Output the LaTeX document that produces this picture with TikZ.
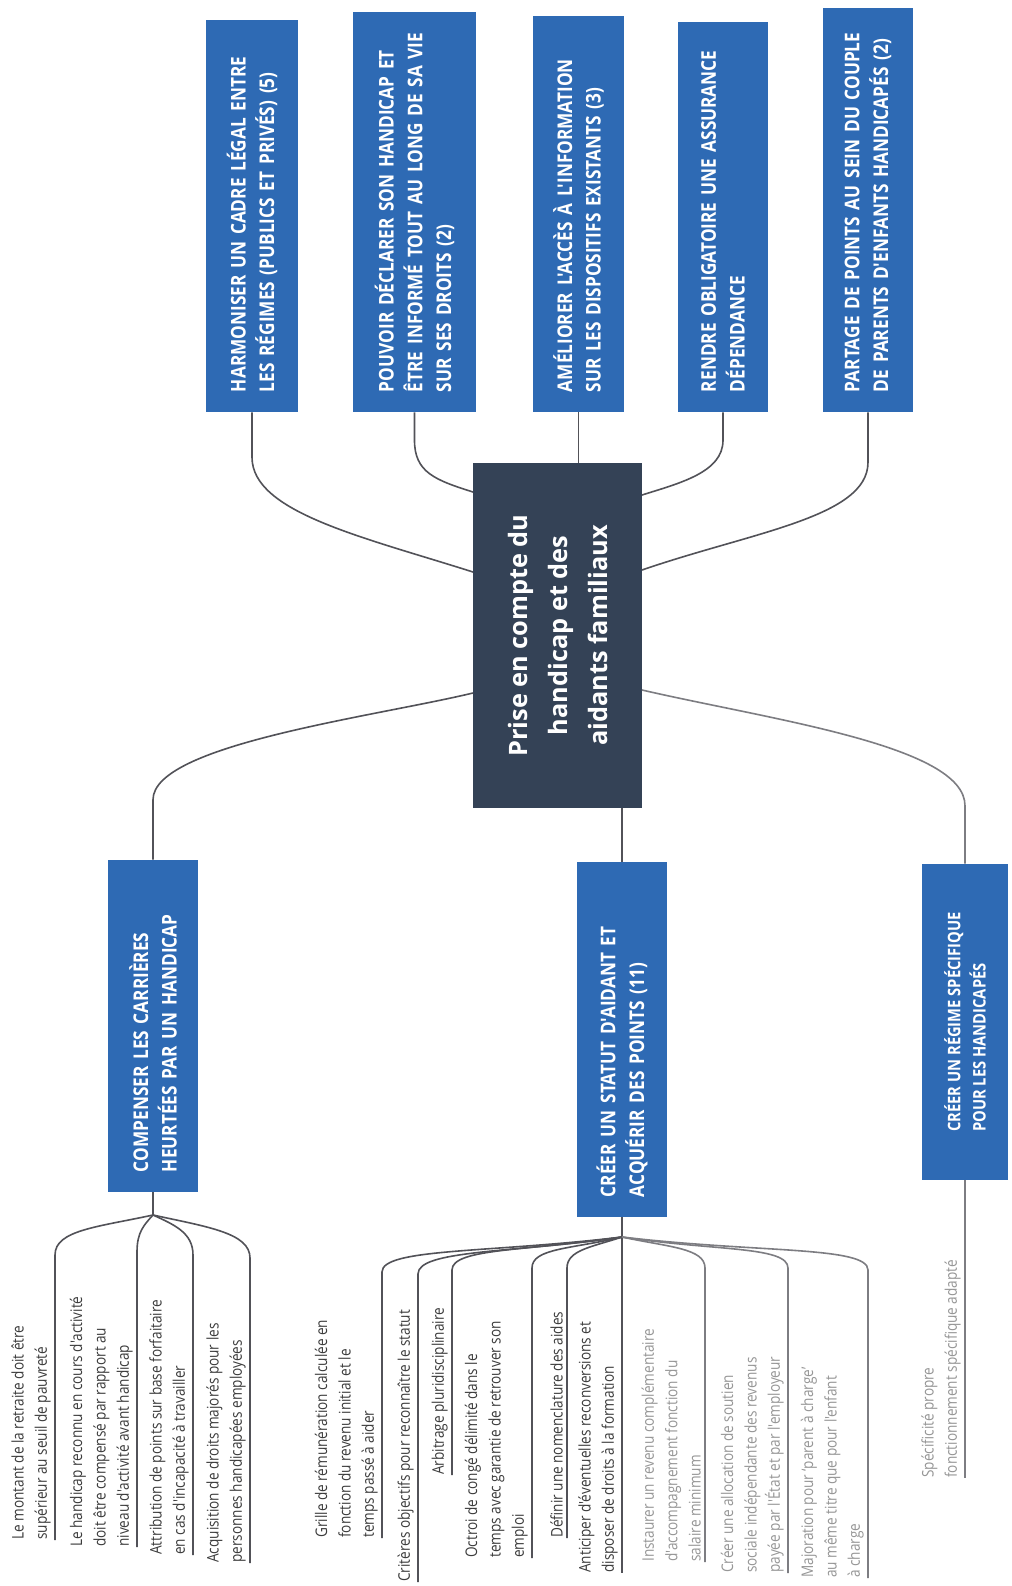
\documentclass[tikz,border=0pt]{standalone}
\usepackage{fontspec}
\setmainfont{Open Sans}
\newfontfamily\boxfont[FakeStretch=0.85]{Open Sans}
\newfontfamily\leaffont[FakeStretch=0.85]{Open Sans}
\usetikzlibrary{calc}
\definecolor{topicblue}{RGB}{46,106,180}
\definecolor{rootnavy}{RGB}{52,66,86}
\definecolor{linegray}{RGB}{82,82,88}
\definecolor{leafgray}{RGB}{60,60,60}
\definecolor{fadegray}{RGB}{150,150,150}
\definecolor{fadeline}{RGB}{125,125,130}
\begin{document}
\begin{tikzpicture}[x=0.75pt,y=-0.75pt,
  conn/.style={draw=linegray,line width=1.2pt},
  fadeconn/.style={draw=fadeline,line width=1.2pt},
  topic/.style={rotate=90,fill=topicblue,text=white,inner ysep=0pt,inner xsep=15pt,align=left,
    font=\boxfont\bfseries\fontsize{15.2}{21.5}\selectfont},
  root/.style={rotate=90,fill=rootnavy,text=white,inner sep=0pt,align=center,
    font=\bfseries\fontsize{19}{30}\selectfont},
  leaf/.style={rotate=90,anchor=south west,inner xsep=0pt,inner ysep=3pt,align=left,
    text=leafgray,font=\leaffont\fontsize{12}{17.5}\selectfont},
  fadeleaf/.style={leaf,text=fadegray},
]
\useasboundingbox (0,0) rectangle (1011,1586);
\fill[white] (0,0) rectangle (1011,1586);

% root
\node[root,minimum width=258.75pt,minimum height=126.75pt] (C) at (557.5,635.5)
  {Prise en compte du\\handicap et des\\aidants familiaux};

% top topics
\node[topic,minimum width=294pt,minimum height=69pt,text width=264pt] (T1) at (252,216)
  {\mbox{HARMONISER UN CADRE LÉGAL ENTRE}\\\mbox{LES RÉGIMES (PUBLICS ET PRIVÉS) (5)}};
\node[topic,minimum width=300pt,minimum height=92.25pt,text width=270pt] (T2) at (414.5,212)
  {\mbox{POUVOIR DÉCLARER SON HANDICAP ET}\\\mbox{ÊTRE INFORMÉ TOUT AU LONG DE SA VIE}\\\mbox{SUR SES DROITS (2)}};
\node[topic,minimum width=297pt,minimum height=68.25pt,text width=267pt] (T3) at (578.5,214)
  {\mbox{AMÉLIORER L'ACCÈS À L'INFORMATION}\\\mbox{SUR LES DISPOSITIFS EXISTANTS (3)}};
\node[topic,minimum width=292.5pt,minimum height=67.5pt,text width=262.5pt] (T4) at (723,217)
  {\mbox{RENDRE OBLIGATOIRE UNE ASSURANCE}\\\mbox{DÉPENDANCE}};
\node[topic,minimum width=303pt,minimum height=67.5pt,text width=273pt] (T5) at (868,210)
  {\mbox{PARTAGE DE POINTS AU SEIN DU COUPLE}\\\mbox{DE PARENTS D'ENFANTS HANDICAPÉS (2)}};

% bottom topics
\node[topic,minimum width=249pt,minimum height=67.5pt,text width=219pt] (B1) at (153,1026)
  {\mbox{COMPENSER LES CARRIÈRES}\\\mbox{HEURTÉES PAR UN HANDICAP}};
\node[topic,minimum width=266.25pt,minimum height=67.5pt,text width=236.25pt] (B2) at (622,1039.5)
  {\mbox{CRÉER UN STATUT D'AIDANT ET}\\\mbox{ACQUÉRIR DES POINTS (11)}};
\node[topic,minimum width=237pt,minimum height=64.5pt,inner xsep=0pt,
  font=\boxfont\bfseries\fontsize{13}{19}\selectfont] (B3) at (965,1022)
  {CRÉER UN RÉGIME SPÉCIFIQUE\\POUR LES HANDICAPÉS};

% root -> top topics
\draw[conn] (T1.west) -- ++(0,45) .. controls +(0,55) and +(-110,-35) .. ($(C.center)+(-84.5,-63.5)$);
\draw[conn] (T2.west) -- ++(0,28) .. controls +(0,32) and +(-38,-12) .. ($(C.center)+(-84.5,-143.5)$);
\draw[conn] (T3.west) -- ($(C.center)+(21,-172.5)$);
\draw[conn] (T4.west) -- ++(0,28) .. controls +(0,32) and +(38,-12) .. ($(C.center)+(84.5,-140.5)$);
\draw[conn] (T5.west) -- ++(0,50) .. controls +(0,55) and +(110,-38) .. ($(C.center)+(84.5,-65.5)$);

% root -> bottom topics
\draw[conn] (B1.east) -- ++(0,-60) .. controls +(0,-55) and +(-100,24) .. ($(C.center)+(-84.5,57.5)$);
\draw[conn] ($(C.center)+(64.5,172.5)$) -- (B2.east);
\draw[fadeconn] (B3.east) -- ++(0,-58) .. controls +(0,-60) and +(130,30) .. ($(C.center)+(84.5,54.5)$);

% leaves of B1
\coordinate (J1) at (153,1215);
\draw[conn] (B1.west) -- (J1);
\node[leaf] (L1) at (55,1540) {Le montant de la retraite doit être\\supérieur au seuil de pauvreté};
\node[leaf] (L2) at (137,1547) {Le handicap reconnu en cours d'activité\\doit être compensé par rapport au\\niveau d'activité avant handicap};
\node[leaf] (L3) at (193,1555) {Attribution de points sur base forfaitaire\\en cas d'incapacité à travailler};
\node[leaf] (L4) at (250,1563) {Acquisition de droits majorés pour les\\personnes handicapées employées};
\draw[conn] (J1) .. controls +(-55,12) and +(0,-25) .. (55,1255) -- (L1.south west);
\draw[conn] (J1) .. controls +(-9,10) and +(0,-20) .. (137,1252) -- (L2.south west);
\draw[conn] (J1) .. controls +(22,10) and +(0,-22) .. (193,1255) -- (L3.south west);
\draw[conn] (J1) .. controls +(55,12) and +(0,-25) .. (250,1258) -- (L4.south west);

% leaves of B2
\coordinate (J2) at (622,1237);
\draw[conn] (B2.west) -- (J2);
\node[leaf] (Sa) at (382,1538) {Grille de rémunération calculée en\\fonction du revenu initial et le\\temps passé à aider};
\node[leaf] (Sb) at (418,1582) {Critères objectifs pour reconnaître le statut};
\node[leaf] (Sc) at (452,1475) {Arbitrage pluridisciplinaire};
\node[leaf] (Sd) at (532,1558) {Octroi de congé délimité dans le\\temps avec garantie de retrouver son\\emploi};
\node[leaf] (Se) at (567,1538) {Définir une nomenclature des aides};
\node[leaf] (Sf) at (622,1573) {Anticiper d'éventuelles reconversions et\\disposer de droits à la formation};
\node[fadeleaf] (Sg) at (705,1562) {Instaurer un revenu complémentaire\\d'accompagnement fonction du\\salaire minimum};
\node[fadeleaf] (Sh) at (788,1573) {Créer une allocation de soutien\\sociale indépendante des revenus\\payée par l'État et par l'employeur};
\node[fadeleaf] (Si) at (868,1578) {Majoration pour ‘parent à charge’\\au même titre que pour l'enfant\\à charge};
\draw[conn] (J2) .. controls +(-132,16) and +(0,-24) .. (382,1272) -- (Sa.south west);
\draw[conn] (J2) .. controls +(-112,16) and +(0,-24) .. (418,1274) -- (Sb.south west);
\draw[conn] (J2) .. controls +(-94,14) and +(0,-22) .. (452,1270) -- (Sc.south west);
\draw[conn] (J2) .. controls +(-50,12) and +(0,-20) .. (532,1268) -- (Sd.south west);
\draw[conn] (J2) .. controls +(-30,10) and +(0,-18) .. (567,1268) -- (Se.south west);
\draw[conn] (J2) -- (Sf.south west);
\draw[fadeconn] (J2) .. controls +(46,10) and +(0,-20) .. (705,1268) -- (Sg.south west);
\draw[fadeconn] (J2) .. controls +(92,14) and +(0,-22) .. (788,1268) -- (Sh.south west);
\draw[fadeconn] (J2) .. controls +(135,16) and +(0,-24) .. (868,1270) -- (Si.south west);

% leaf of B3
\node[fadeleaf] (R1) at (965,1478) {Spécificité propre\\fonctionnement spécifique adapté};
\draw[fadeconn] (B3.west) -- (R1.south west);
\end{tikzpicture}
\end{document}
